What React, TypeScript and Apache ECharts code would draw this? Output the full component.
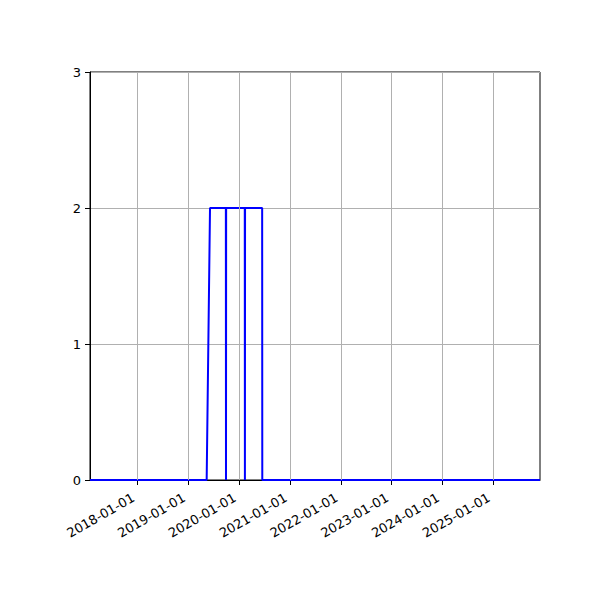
import { useEffect, useRef } from 'react'
import * as echarts from 'echarts'

const dates = [
  '2017-01-23', '2019-05-12', '2019-06-05', '2019-09-27', '2019-09-28', '2019-09-29',
  '2020-02-10', '2020-02-11', '2020-02-12', '2020-06-14', '2020-06-15', '2025-12-03',
]
const values = [0, 0, 2, 2, 0, 2, 2, 0, 2, 2, 0, 0]
const yearTicks = [
  '2018-01-01', '2019-01-01', '2020-01-01', '2021-01-01',
  '2022-01-01', '2023-01-01', '2024-01-01', '2025-01-01',
]
const xMin = '2017-01-23'
const xMax = '2025-12-03'

const ts = (d: string) => new Date(d + 'T00:00:00Z').getTime()

const fmt = (v: number) => {
  const d = new Date(v)
  const m = String(d.getUTCMonth() + 1).padStart(2, '0')
  const day = String(d.getUTCDate()).padStart(2, '0')
  return `${d.getUTCFullYear()}-${m}-${day}`
}

export default function App() {
  const chartRef = useRef<HTMLDivElement>(null)

  useEffect(() => {
    document.body.style.margin = '0'
    if (!chartRef.current) return
    const chart = echarts.init(chartRef.current, undefined, { renderer: 'svg' })
    const font = { fontFamily: 'DejaVu Sans', fontSize: 13, color: '#000' }
    const tickValues = yearTicks.map(ts)

    chart.setOption({
      animation: false,
      grid: {
        left: 90, right: 60, top: 72, bottom: 120,
        show: true, borderColor: '#000', borderWidth: 1, containLabel: false,
      },
      xAxis: {
        type: 'value',
        min: ts(xMin),
        max: ts(xMax),
        axisLine: { lineStyle: { color: '#000', width: 1 } },
        axisTick: {
          show: true, length: 5, lineStyle: { color: '#000' },
          customValues: tickValues,
        },
        axisLabel: {
          ...font,
          rotate: 30,
          margin: 14,
          padding: [0, 5, 0, 0],
          customValues: tickValues,
          formatter: (v: number) => fmt(v),
        },
        splitLine: { show: false },
      },
      yAxis: {
        type: 'value',
        min: 0,
        max: 3,
        interval: 1,
        axisLine: { show: true, lineStyle: { color: '#000', width: 1 } },
        axisTick: { show: true, length: 5, lineStyle: { color: '#000' } },
        axisLabel: { ...font, margin: 9 },
        splitLine: { show: true, lineStyle: { color: '#b0b0b0', width: 1 } },
      },
      series: [
        {
          type: 'line',
          z: 1,
          showSymbol: false,
          lineStyle: { opacity: 0 },
          data: [[tickValues[0], 0]],
          markLine: {
            silent: true,
            symbol: 'none',
            label: { show: false },
            lineStyle: { color: '#b0b0b0', width: 1, type: 'solid' },
            data: tickValues.map(v => ({ xAxis: v })),
          },
        },
        {
          type: 'line',
          z: 3,
          showSymbol: false,
          lineStyle: { color: '#0000ff', width: 2 },
          itemStyle: { color: '#0000ff' },
          data: dates.map((d, i) => [ts(d), values[i]]),
        },
      ],
    })

    return () => {
      chart.dispose()
    }
  }, [])

  return <div ref={chartRef} style={{ width: '600px', height: '600px' }} />
}
